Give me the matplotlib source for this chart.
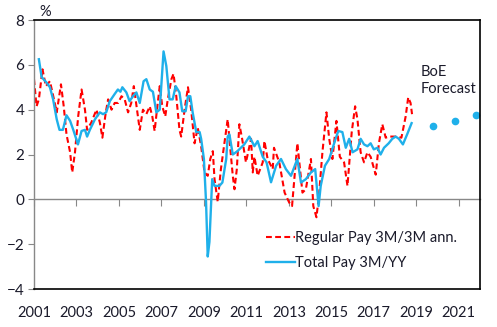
import matplotlib.pyplot as plt

plt.rcParams['font.family'] = ['Lato', 'DejaVu Sans']

# Regular pay, 3m/3m annualised (%)
reg_t = [2001.0, 2001.12, 2001.23, 2001.4, 2001.56, 2001.75, 2001.94, 2002.07, 2002.27,
         2002.4, 2002.53, 2002.7, 2002.8, 2002.93, 2003.08, 2003.24, 2003.4, 2003.5,
         2003.7, 2003.94, 2004.1, 2004.22, 2004.38, 2004.49, 2004.65, 2004.8, 2004.96,
         2005.12, 2005.27, 2005.43, 2005.58, 2005.7, 2005.85, 2005.98, 2006.13, 2006.29,
         2006.45, 2006.57, 2006.68, 2006.79, 2006.92, 2007.04, 2007.18, 2007.3, 2007.47,
         2007.57, 2007.7, 2007.85, 2007.93, 2008.09, 2008.25, 2008.4, 2008.56, 2008.71,
         2008.87, 2009.03, 2009.18, 2009.3, 2009.42, 2009.5, 2009.65, 2009.8, 2009.95,
         2010.12, 2010.2, 2010.36, 2010.44, 2010.55, 2010.67, 2010.8, 2010.98, 2011.22,
         2011.3, 2011.38, 2011.53, 2011.77, 2011.85, 2012.0, 2012.24, 2012.3, 2012.55,
         2012.8, 2013.02, 2013.15, 2013.4, 2013.64, 2013.8, 2014.04, 2014.15, 2014.3,
         2014.43, 2014.58, 2014.77, 2014.9, 2015.05, 2015.24, 2015.4, 2015.6, 2015.76,
         2015.96, 2016.12, 2016.23, 2016.38, 2016.54, 2016.7, 2016.85, 2017.09, 2017.24,
         2017.4, 2017.56, 2017.7, 2017.9, 2018.1, 2018.3, 2018.5, 2018.62, 2018.73, 2018.8]
reg_v = [5.36, 4.15, 4.46, 5.8, 5.05, 5.27, 4.46, 3.88, 5.13,
         4.15, 2.9, 2.1, 1.2, 2.1, 3.7, 4.9, 4.0, 3.1,
         3.43, 4.0, 3.43, 2.75, 3.88, 4.46, 4.0, 4.3, 4.3,
         4.6, 4.46, 3.88, 4.3, 5.05, 4.0, 3.1, 4.0, 3.8,
         4.15, 3.7, 3.05, 4.0, 5.05, 4.15, 3.7, 4.46, 5.36,
         5.6, 4.6, 3.1, 2.8, 4.0, 5.0, 4.0, 2.5, 3.2,
         2.37, 1.2, 1.05, 1.8, 2.15, 0.9, -0.1, 1.35, 2.4,
         3.57, 2.7, 1.05, 0.45, 1.35, 3.35, 2.7, 1.65, 2.7,
         1.2, 1.9, 1.05, 1.65, 2.6, 1.8, 1.35, 2.3, 1.65,
         0.3, -0.15, -0.3, 2.5, 0.3, 0.45, 1.8, -0.3, -0.8,
         0.3, 2.1, 3.88, 2.7, 1.8, 3.5, 1.9, 1.65, 0.6,
         3.0, 4.15, 3.57, 2.1, 1.65, 2.1, 1.9, 1.1, 2.5,
         3.35, 2.75, 2.8, 2.8, 2.8, 2.75, 3.7, 4.55, 4.3, 3.8]

# Total pay, 3m/yy (%)
tot_t = [2001.23, 2001.36, 2001.45, 2001.6, 2001.75, 2001.9, 2002.07, 2002.2, 2002.36,
         2002.53, 2002.7, 2002.85, 2003.07, 2003.24, 2003.4, 2003.5, 2003.63, 2003.87,
         2004.1, 2004.25, 2004.4, 2004.57, 2004.8, 2004.95, 2005.07, 2005.16, 2005.35,
         2005.5, 2005.66, 2005.82, 2005.98, 2006.16, 2006.29, 2006.45, 2006.6, 2006.76,
         2006.92, 2007.1, 2007.23, 2007.38, 2007.53, 2007.67, 2007.85, 2007.98, 2008.14,
         2008.25, 2008.36, 2008.47, 2008.64, 2008.8, 2008.87, 2009.0, 2009.1, 2009.18,
         2009.26, 2009.39, 2009.5, 2009.73, 2009.87, 2010.05, 2010.12, 2010.2, 2010.36,
         2010.58, 2010.9, 2011.14, 2011.38, 2011.53, 2011.77, 2011.95, 2012.16, 2012.4,
         2012.63, 2012.86, 2013.1, 2013.4, 2013.57, 2013.8, 2014.04, 2014.24, 2014.4,
         2014.5, 2014.7, 2014.9, 2015.2, 2015.33, 2015.52, 2015.68, 2015.84, 2016.0,
         2016.23, 2016.38, 2016.54, 2016.7, 2016.85, 2017.0, 2017.17, 2017.32, 2017.48,
         2017.7, 2017.87, 2018.03, 2018.18, 2018.37, 2018.57, 2018.78]
tot_v = [6.25, 5.45, 5.36, 5.2, 5.0, 4.46, 3.57, 3.1, 3.1,
         3.75, 3.5, 3.1, 2.45, 3.05, 3.1, 2.8, 3.1, 3.57,
         3.88, 3.8, 3.88, 4.38, 4.7, 4.9, 4.8, 5.0, 4.77,
         4.38, 4.6, 4.77, 4.3, 5.27, 5.36, 4.9, 4.8, 3.88,
         4.0, 6.6, 5.95, 4.46, 4.46, 5.05, 4.77, 3.93, 3.93,
         4.6, 4.6, 3.88, 3.0, 3.0, 2.7, 1.8, -0.1, -2.55,
         -1.9, 0.9, 0.6, 0.6, 0.75, 1.8, 2.8, 2.9, 2.0,
         2.15, 2.45, 2.8, 2.37, 2.6, 1.9, 1.65, 0.76, 1.5,
         1.8, 1.35, 1.05, 1.8, 0.75, 0.9, 1.2, 1.35, -0.3,
         0.6, 1.5, 1.8, 2.7, 3.05, 3.0, 2.3, 2.7, 2.1,
         2.23, 2.7, 2.45, 2.37, 2.5, 2.23, 2.3, 2.0, 2.3,
         2.5, 2.7, 2.8, 2.7, 2.45, 2.9, 3.4]

# BoE projection points
fc_t = [2019.78, 2020.8, 2021.8]
fc_v = [3.25, 3.5, 3.75]

years = list(range(2001, 2023, 2))
red = '#ff0000'
blue = '#1fb0ea'
txt = '#1a1a2a'

fig = plt.figure(figsize=(4.97, 3.27), dpi=100)
ax = fig.add_axes([0.0684, 0.1162, 0.8974, 0.8226])

ax.plot(reg_t, reg_v, color=red, lw=1.5, ls=(0, (2.8, 1.6)), label='Regular Pay 3M/3M ann.')
ax.plot(tot_t, tot_v, color=blue, lw=1.7, label='Total Pay 3M/YY')
ax.plot(fc_t, fc_v, 'o', color=blue, ms=4.5, clip_on=False)

ax.set_xlim(2001, 2022)
ax.set_ylim(-4, 8)
ax.set_yticks(range(-4, 9, 2))
ax.set_xticks(years)
ax.set_xticklabels([str(y) for y in years])
ax.tick_params(axis='x', length=0, pad=12, labelsize=10.5, labelcolor=txt)
ax.tick_params(axis='y', length=4, color='#888888', pad=3, labelsize=11, labelcolor=txt)

for s in ('top', 'right', 'bottom'):
    ax.spines[s].set_color('black')
    ax.spines[s].set_linewidth(1.2)
ax.spines['left'].set_color('#888888')
ax.spines['left'].set_linewidth(1.0)

# zero line carrying the year tick marks
zero = ax.secondary_xaxis(1 / 3)
zero.set_xticks(years)
zero.tick_params(length=5, color='#888888', labelbottom=False, labeltop=False,
                 direction='out', bottom=True, top=False)
zero.spines['bottom'].set_color('#888888')
zero.spines['bottom'].set_linewidth(1.0)
zero.spines['top'].set_visible(False)

ax.text(0.012, 1.005, '%', transform=ax.transAxes, ha='left', va='bottom',
        fontsize=10.5, color=txt)
ax.text(2019.2, 5.3, 'BoE\nForecast', ha='left', va='center', fontsize=10.5,
        color=txt, linespacing=1.25)

leg = ax.legend(loc='upper left', bbox_to_anchor=(0.49, 0.265), frameon=False,
                handlelength=2.0, handletextpad=0.0, fontsize=10.5, labelspacing=0.75)
for t in leg.get_texts():
    t.set_color(txt)

fig.savefig('out.png', dpi=100)
